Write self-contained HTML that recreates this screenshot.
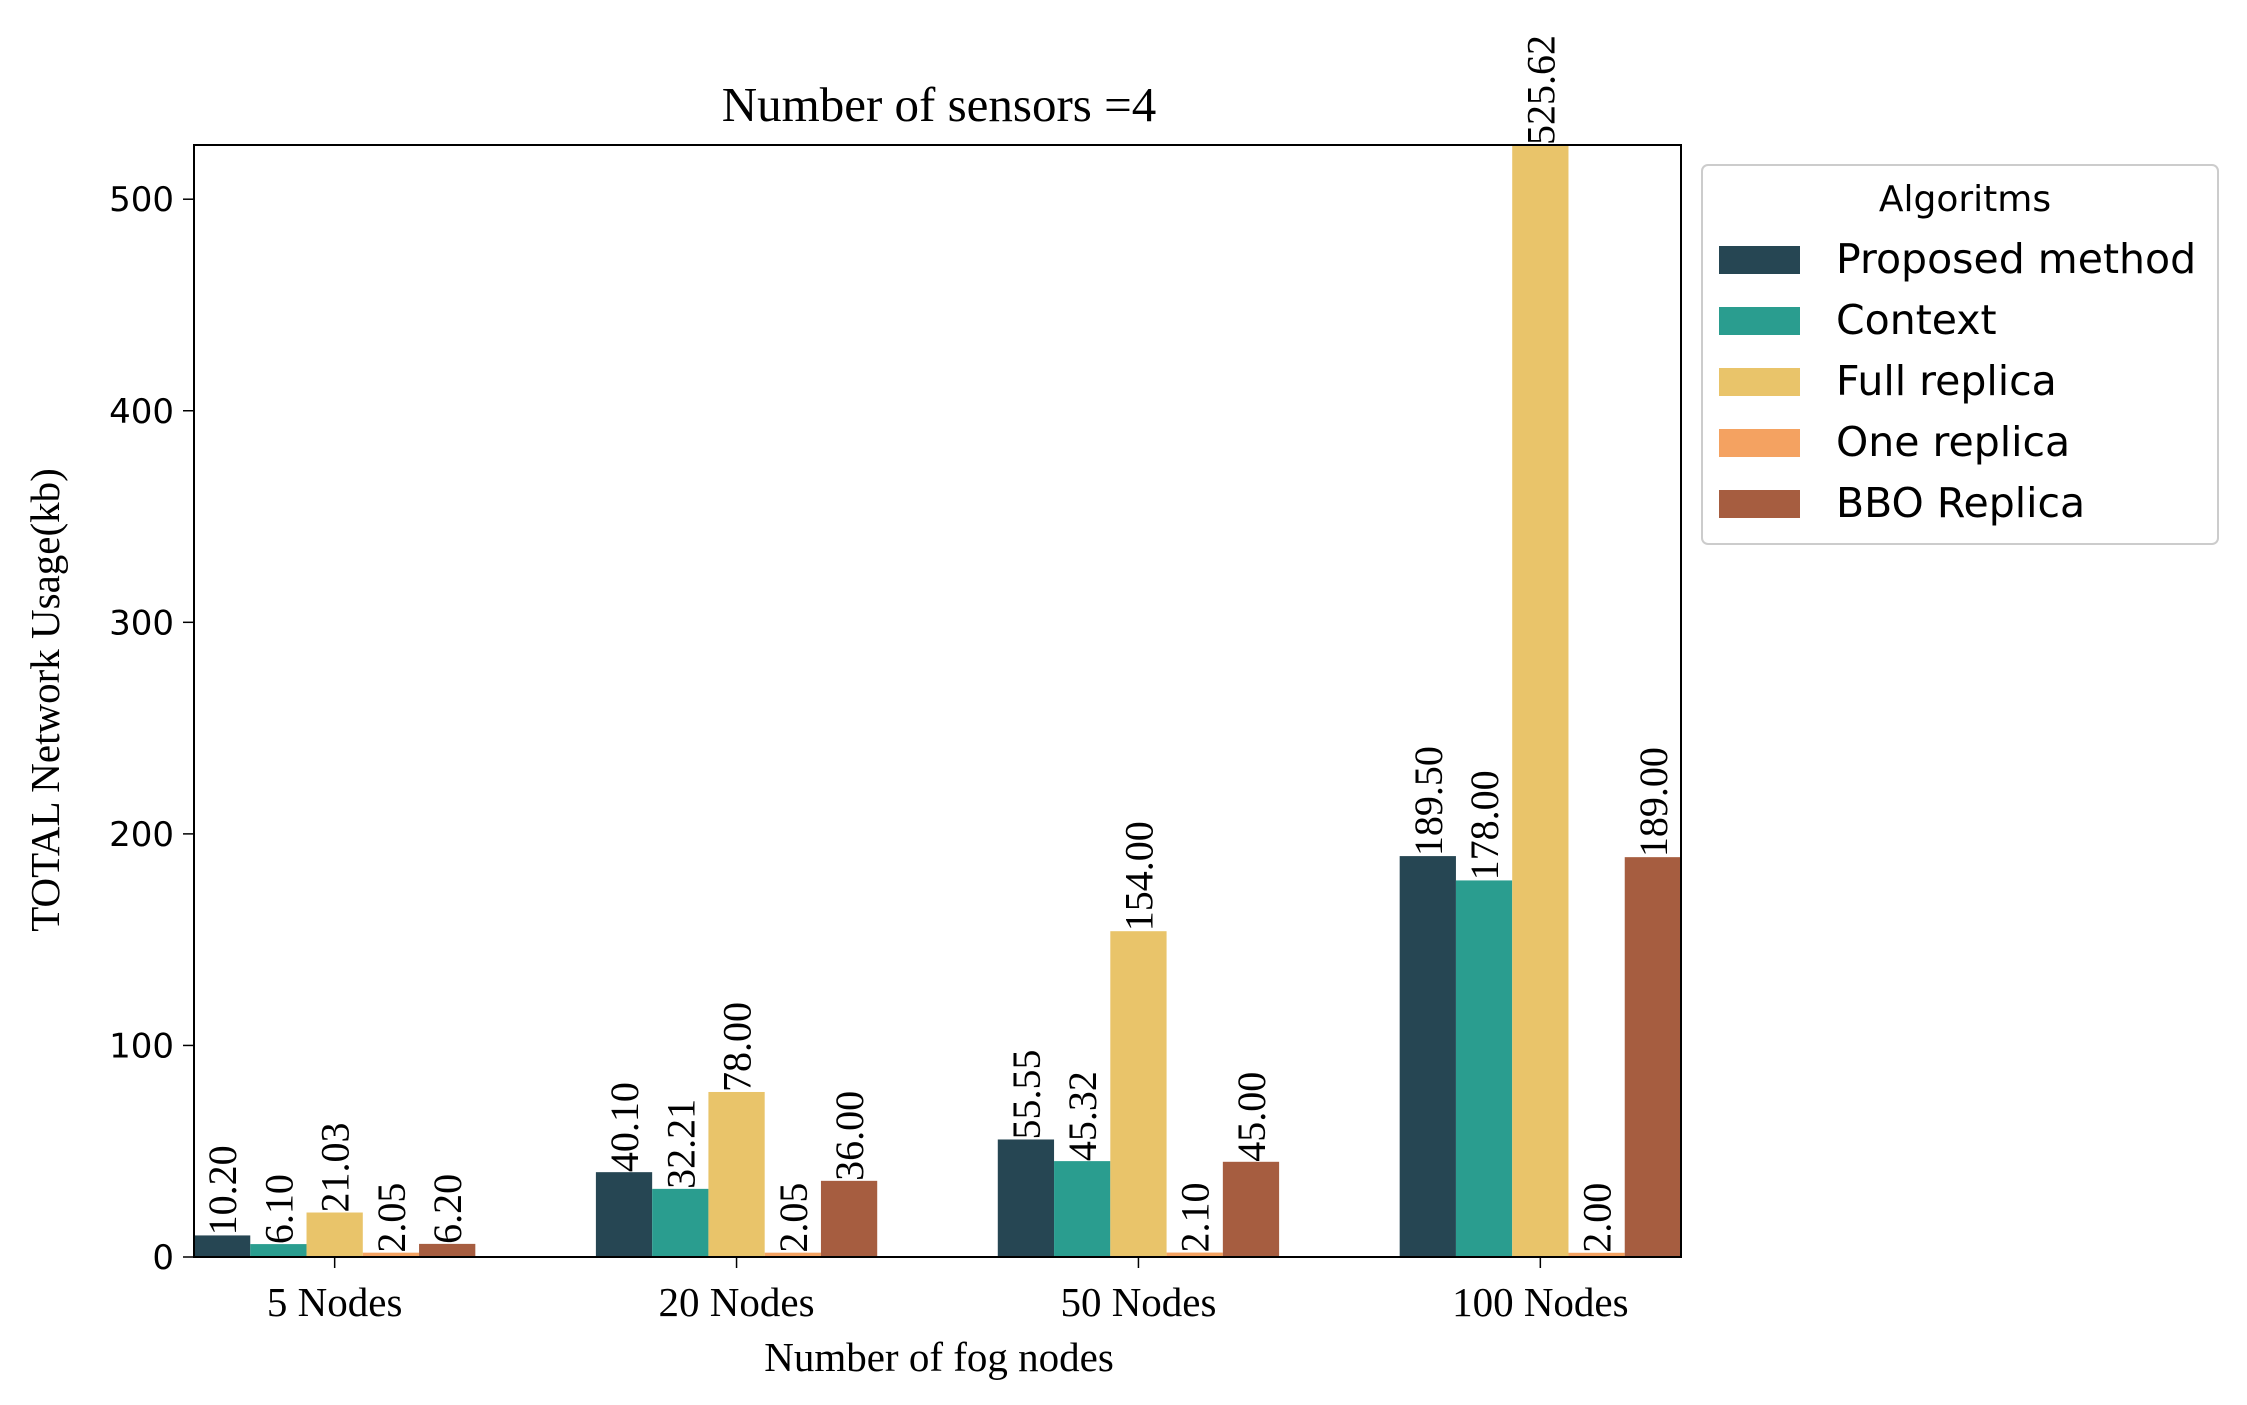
<!DOCTYPE html>
<html><head><meta charset="utf-8"><style>
html,body{margin:0;padding:0;background:#fff;}
svg{display:block;}
</style></head><body>
<svg id="chart" width="2247" height="1405" viewBox="0 0 2247 1405" xmlns="http://www.w3.org/2000/svg">
<rect width="2247" height="1405" fill="#fff"/>
<text x="939" y="121" font-family="Liberation Serif, serif" font-size="49" text-anchor="middle">Number of sensors =4</text>
<g id="bars"></g>
<g id="labels"></g>
<g id="axes"></g>
<text x="939" y="1371" font-family="Liberation Serif, serif" font-size="41" text-anchor="middle">Number of fog nodes</text>
<text transform="translate(59,700) rotate(-90)" font-family="Liberation Serif, serif" font-size="41" text-anchor="middle">TOTAL Network Usage(kb)</text>
<g id="legend"></g>
</svg>
<script>
const categories = ["5 Nodes","20 Nodes","50 Nodes","100 Nodes"];
const seriesNames = ["Proposed method","Context","Full replica","One replica","BBO Replica"];
const proposed = [10.20, 40.10, 55.55, 189.50];
const context = [6.10, 32.21, 45.32, 178.00];
const fullReplica = [21.03, 78.00, 154.00, 525.62];
const oneReplica = [2.05, 2.05, 2.10, 2.00];
const bboReplica = [6.20, 36.00, 45.00, 189.00];
const yTicks = [0,100,200,300,400,500];
const series = [proposed, context, fullReplica, oneReplica, bboReplica];
const colors = ["#264653","#2a9d8f","#e9c46a","#f4a261","#a65d40"];

const NS="http://www.w3.org/2000/svg";
const L=194, R=1681, T=145, B=1257;
const yMax=525.62;
function y(v){return B-(v/yMax)*(B-T);}
const spacing=(R-L)/(categories.length-1+0.7);
function xc(i){return L+spacing*(0.35+i);}
const bw=spacing*0.14;
function mk(tag,attrs,parent){const e=document.createElementNS(NS,tag);for(const k in attrs)e.setAttribute(k,attrs[k]);parent.appendChild(e);return e;}
const gb=document.getElementById('bars'), gl=document.getElementById('labels'), ga=document.getElementById('axes'), gleg=document.getElementById('legend');
series.forEach((s,si)=>{
  s.forEach((v,ci)=>{
    const x=xc(ci)+(si-2)*bw-bw/2;
    const r=mk('rect',{x:x,y:y(v),width:bw,height:B-y(v),fill:colors[si]},gb);
    
    
    const cx=x+bw/2;
    const t=mk('text',{transform:`translate(${cx+14},${y(v)}) rotate(-90)`,'font-family':'Liberation Serif, serif','font-size':'40'},gl);
    
    
    t.textContent=v.toFixed(2);
  });
});
const frame=mk('rect',{x:L,y:T,width:R-L,height:B-T,fill:'none',stroke:'#000','stroke-width':2},ga);


yTicks.forEach(v=>{
  mk('line',{x1:L-11,x2:L,y1:y(v),y2:y(v),stroke:'#000','stroke-width':1.5},ga);
  const t=mk('text',{x:L-20,y:y(v)+12,'font-family':'DejaVu Sans, sans-serif','font-size':'34','text-anchor':'end'},ga);
  
  
  t.textContent=v;
});
categories.forEach((c,i)=>{
  mk('line',{x1:xc(i),x2:xc(i),y1:B,y2:B+11,stroke:'#000','stroke-width':1.5},ga);
  const t=mk('text',{x:xc(i),y:1316,'font-family':'Liberation Serif, serif','font-size':'41','text-anchor':'middle'},ga);
  
  
  t.textContent=c;
});
mk('rect',{x:1702,y:165,width:516,height:379,rx:6,fill:'#fff',stroke:'#ccc','stroke-width':2},gleg);
const lt=mk('text',{x:1965,y:211,'font-family':'DejaVu Sans, sans-serif','font-size':'36','text-anchor':'middle'},gleg);


lt.textContent='Algoritms';
seriesNames.forEach((n,i)=>{
  const yy=260+i*61;
  const p=mk('rect',{x:1719,y:yy-14,width:81,height:28,fill:colors[i]},gleg);
  
  
  const t=mk('text',{x:1836,y:yy+13,'font-family':'DejaVu Sans, sans-serif','font-size':'41'},gleg);
  
  
  t.textContent=n;
});
</script>
</body></html>
